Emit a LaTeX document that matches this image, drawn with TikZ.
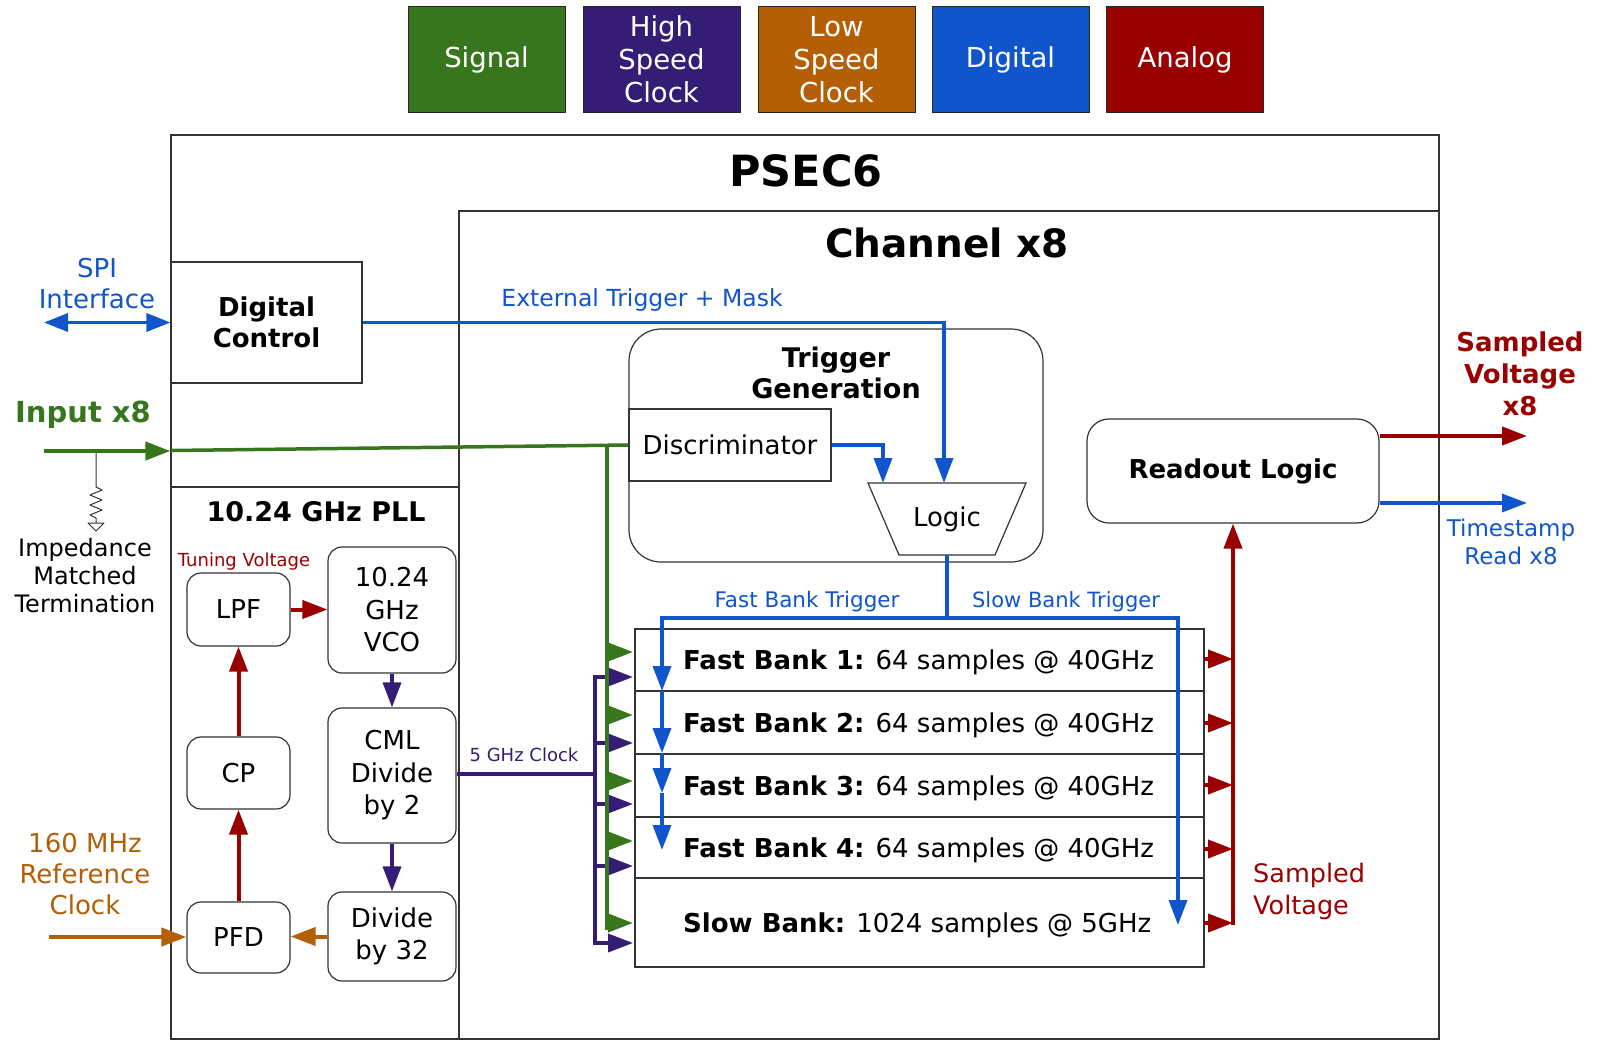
\documentclass[tikz,border=0pt]{standalone}
\usepackage{fontspec}
\setmainfont{DejaVu Sans}
\usetikzlibrary{arrows.meta,calc}
\definecolor{csig}{HTML}{38761D}
\definecolor{chs}{HTML}{351C75}
\definecolor{cls}{HTML}{B45F06}
\definecolor{cdig}{HTML}{1155CC}
\definecolor{cana}{HTML}{990000}
\newcommand{\fsz}[2]{\fontsize{#1}{#2}\selectfont}
\begin{document}
\begin{tikzpicture}[x=1pt,y=-1pt,
  box/.style={draw=black!80, line width=1.2pt, inner sep=0pt, align=center},
  sz/.style 2 args={minimum width=#1, minimum height=#2},
  rbox/.style={box, rounded corners=14pt},
  legend/.style={draw=black!85, line width=1pt, inner sep=0pt, text=white, align=center, font=\fsz{27.5}{33}, minimum width=157, minimum height=105},
  lbl/.style={inner sep=0pt, align=center},
  tip/.style={-{Triangle[length=25pt,width=18pt]}},
  sigw/.style={draw=csig, line width=4pt},
  hsw/.style={draw=chs, line width=3.5pt},
  lsw/.style={draw=cls, line width=4pt},
  digw/.style={draw=cdig, line width=3.5pt},
  anaw/.style={draw=cana, line width=4pt},
  ptxt/.style={font=\fsz{26}{32.5}},
  rowbox/.style={box, minimum width=569},
  rowtxt/.style={anchor=west, inner sep=0pt, font=\fsz{26}{30}}
]
\useasboundingbox (0,0) rectangle (1600,1049);

% legend
\node[legend, fill=csig] (sig) at (486.5,59.5) {Signal};
\node[legend, fill=chs] (hsc) at (661.5,59.5) {High\\Speed\\Clock};
\node[legend, fill=cls] (lsc) at (836.5,59.5) {Low\\Speed\\Clock};
\node[legend, fill=cdig] (digl) at (1010.5,59.5) {Digital};
\node[legend, fill=cana] (anal) at (1185,59.5) {Analog};

% outer boxes
\node[box, sz={1268}{904}] (psec) at (805,587) {};
\node[lbl, font=\fsz{43}{50}\bfseries] (psect) at (806,171) {PSEC6};
\node[box, sz={980}{828}] (chan) at (949,625) {};
\node[lbl, font=\fsz{39}{46}\bfseries] (chant) at (947,243) {Channel x8};

% digital control
\node[box, sz={191}{121}, font=\fsz{26}{31}\bfseries] (dc) at (266.5,322.5) {Digital\\Control};
\draw[draw=black!80, line width=1.2pt] (psec.west |- 0,487) -- (chan.west |- 0,487);
\node[lbl, font=\fsz{27}{32}\bfseries] (pllt) at (316,512) {10.24 GHz PLL};

% PLL blocks
\node[rbox, ptxt, sz={103}{73}] (lpf) at (238.5,609.5) {LPF};
\node[rbox, ptxt, sz={128}{126}] (vco) at (392,610) {10.24\\GHz\\VCO};
\node[rbox, ptxt, sz={128}{135}] (cml) at (392,775.5) {CML\\Divide\\by 2};
\node[rbox, ptxt, sz={128}{89}] (div) at (392,936.5) {Divide\\by 32};
\node[rbox, ptxt, sz={103}{72}] (cp) at (238.5,773) {CP};
\node[rbox, ptxt, sz={103}{71}] (pfd) at (238.5,937.5) {PFD};
\node[lbl, text=cana, font=\fsz{18}{22}] (tunv) at (244,562) {Tuning Voltage};

\draw[anaw, tip] (cp.north) -- (lpf.south);
\draw[anaw, tip] (pfd.north) -- (cp.south);
\draw[anaw, tip] (lpf.east) -- (vco.west |- lpf.east);
\draw[hsw, tip] (vco.south) -- (cml.north);
\draw[hsw, tip] (cml.south) -- (div.north);
\draw[lsw, tip] (div.west) -- (pfd.east |- div.west);
\coordinate (refin) at (49,937);
\draw[lsw, tip] (refin) -- (pfd.west |- refin);

% left side labels
\node[lbl, text=cdig, font=\fsz{26}{31}] (spit) at (97,284) {SPI\\Interface};
\coordinate (spil) at (44,322.5);
\draw[digw, {Triangle[length=24pt,width=18pt]}-{Triangle[length=24pt,width=18pt]}] (spil) -- (dc.west);
\node[lbl, text=csig, font=\fsz{29}{32}\bfseries] (inpt) at (83,415) {Input x8};
\node[lbl, font=\fsz{24}{28}] (impt) at (85,576) {Impedance\\Matched\\Termination};
\node[lbl, text=cls, font=\fsz{26}{31}] (reft) at (85,874) {160 MHz\\Reference\\Clock};

% resistor
\coordinate (rtop) at (96,451);
\draw[black!80, line width=1pt, line join=round] (rtop) -- (96,487) -- (102,490) -- (90,495) -- (102,500) -- (90,505) -- (102,510) -- (90,515) -- (96,518) -- (96,523);
\draw[black!80, line width=1pt, line join=round] (88,523) -- (104,523) -- (96,531) -- cycle;

% trigger generation
\node[box, rounded corners=32pt, sz={414}{233}] (trig) at (836,445.5) {};
\node[lbl, font=\fsz{27}{31}\bfseries] (trigt) at (836,373) {Trigger\\Generation};
\node[box, font=\fsz{26}{31}, sz={202}{72}] (disc) at (730,445) {Discriminator};
\draw[box] (868,483) -- (1026,483) -- (995,555) -- (899,555) -- cycle;
\node[lbl, font=\fsz{26}{31}, sz={158}{72}] (logic) at (947,519) {Logic};

% input signal
\coordinate (inl) at (44,451);
\draw[sigw, tip] (inl) -- (psec.west |- inl);
\draw[draw=csig, line width=3.5pt] (171,450.5) -- (disc.west);
\draw[draw=csig, line width=3.5pt] (607,446) -- (607,930);

% external trigger
\node[lbl, text=cdig, font=\fsz{23.5}{27}] (extt) at (642,300) {External Trigger + Mask};
\draw[digw, tip, line join=miter] (dc.east) -- (944,322.5) -- (944,483);
\draw[digw, tip, line join=miter] (disc.east) -- (883,445) -- (883,483);

% banks
\node[rowbox, minimum height=62] (fb1) at (919.5,660) {};
\node[rowbox, minimum height=63] (fb2) at (919.5,722.5) {};
\node[rowbox, minimum height=63] (fb3) at (919.5,785.5) {};
\node[rowbox, minimum height=61] (fb4) at (919.5,847.5) {};
\node[rowbox, minimum height=89] (sb) at (919.5,922.5) {};
\node[rowtxt] (fb1t) at (683,662) {\textbf{Fast Bank 1:} 64 samples @ 40GHz};
\node[rowtxt] (fb2t) at (683,725) {\textbf{Fast Bank 2:} 64 samples @ 40GHz};
\node[rowtxt] (fb3t) at (683,788) {\textbf{Fast Bank 3:} 64 samples @ 40GHz};
\node[rowtxt] (fb4t) at (683,850) {\textbf{Fast Bank 4:} 64 samples @ 40GHz};
\node[rowtxt] (sbt) at (683,925) {\textbf{Slow Bank:} 1024 samples @ 5GHz};

% trigger distribution
\node[lbl, text=cdig, font=\fsz{21.5}{25}] (fbtt) at (807,602) {Fast Bank Trigger};
\node[lbl, text=cdig, font=\fsz{21}{25}] (sbtt) at (1066,602) {Slow Bank Trigger};
\draw[digw] (logic.south) -- (947,618);
\draw[digw, line cap=rect] (662,618) -- (1178,618);
\draw[digw, tip] (662,618) -- (662,691);
\draw[digw, tip] (662,691) -- (662,753);
\draw[digw, tip] (662,753) -- (662,793);
\draw[digw, tip] (662,793) -- (662,850);
\draw[digw, tip] (1178,618) -- (1178,925);

% clock bus
\node[lbl, text=chs, font=\fsz{18}{22}] (ckt) at (524,755) {5 GHz Clock};
\draw[hsw] (cml.east |- 0,774) -- (595,774);
\draw[hsw, line cap=rect] (595,677) -- (595,943);
\foreach \yy in {677,743,804,866,943} {
  \draw[hsw, tip] (595,\yy) -- (633,\yy);
}
\draw[draw=csig, line width=3.5pt] (607,640) -- (607,930);
\foreach \yy in {652,715,781,841,923} {
  \draw[sigw, tip] (605,\yy) -- (633,\yy);
}

% readout
\node[box, rounded corners=22pt, font=\fsz{26}{31}\bfseries, sz={292}{104}] (ro) at (1233,471) {Readout Logic};
\foreach \yy in {659,723,785,849,923} {
  \draw[anaw, tip] (1204,\yy) -- (1233,\yy);
}
\draw[anaw, tip] (ro.south |- 0,925) -- (ro.south);
\coordinate (svo) at (1527,436);
\coordinate (tso) at (1527,503);
\draw[anaw, tip] (ro.east |- svo) -- (svo);
\draw[digw, tip] (ro.east |- tso) -- (tso);
\node[lbl, text=cana, font=\fsz{26}{32}\bfseries] (svt) at (1520,374) {Sampled\\Voltage\\x8};
\node[lbl, text=cdig, font=\fsz{23}{28}] (tst) at (1511,542) {Timestamp\\Read x8};
\node[lbl, anchor=west, align=left, text=cana, font=\fsz{25.5}{32}] (svl) at (1253,891) {Sampled\\Voltage};
\end{tikzpicture}
\end{document}
